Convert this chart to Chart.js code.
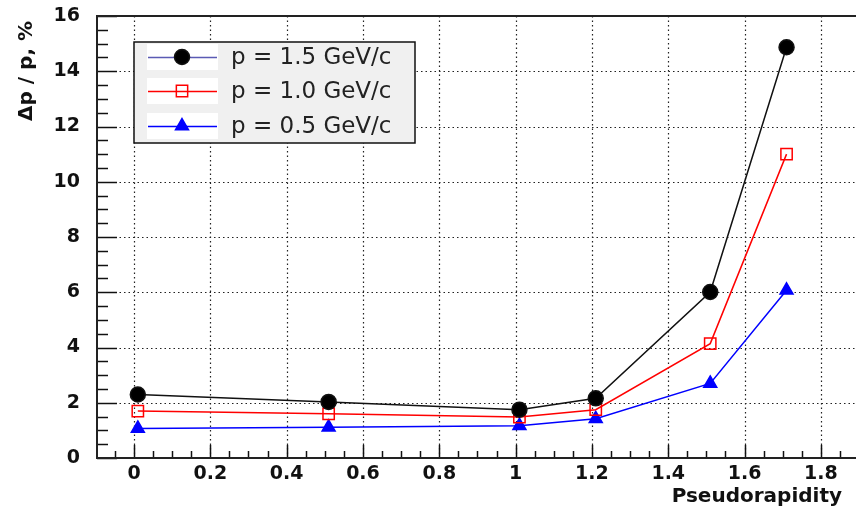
<!DOCTYPE html>
<html>
<head>
<meta charset="utf-8">
<script src="https://cdn.jsdelivr.net/npm/chart.js@4.4.1/dist/chart.umd.min.js"></script>
<style>
  html, body { margin: 0; padding: 0; background: #fff; overflow: hidden; }
  #wrap { width: 856px; height: 508px; }
</style>
</head>
<body>
<div id="wrap"><canvas id="chart"></canvas></div>
<script>
// data
const eta = [0.01, 0.51, 1.01, 1.21, 1.51, 1.71];
const p15 = [2.30, 2.03, 1.75, 2.16, 6.01, 14.87];
const p10 = [1.70, 1.60, 1.48, 1.75, 4.14, 11.0];
const p05 = [1.07, 1.11, 1.17, 1.42, 2.70, 6.07];
const seriesLabels = ['p = 1.5 GeV/c', 'p = 1.0 GeV/c', 'p = 0.5 GeV/c'];
const xTicks = [0, 0.2, 0.4, 0.6, 0.8, 1, 1.2, 1.4, 1.6, 1.8];
const yTicks = [0, 2, 4, 6, 8, 10, 12, 14, 16];

const X_MIN = -0.097, X_MAX = 1.892;
const FONT = 'DejaVu Sans';

const toPoints = ys => eta.map((x, i) => ({ x: x, y: ys[i] }));

const styles = [
  { color: '#111', legendLine: '#5a5ab4', point: 'circle', radius: 7.5, fill: '#000' },
  { color: '#ff0000', legendLine: '#ff0000', point: 'rect', radius: 8, fill: 'rgba(0,0,0,0)' },
  { color: '#0000ff', legendLine: '#0000ff', point: 'triangle', radius: 7.5, fill: '#0000ff' }
];

// ROOT-like frame: dotted grid, inward ticks, axis titles, legend box
const framePlugin = {
  id: 'frame',
  beforeDatasetsDraw(chart) {
    const { ctx, chartArea: a, scales: { x, y } } = chart;
    ctx.save();
    // dotted grid
    ctx.strokeStyle = '#222';
    ctx.lineWidth = 1.2;
    ctx.setLineDash([1.5, 3]);
    xTicks.forEach(v => {
      const px = Math.round(x.getPixelForValue(v)) + 0.5;
      ctx.beginPath(); ctx.moveTo(px, a.top); ctx.lineTo(px, a.bottom); ctx.stroke();
    });
    yTicks.forEach(v => {
      const py = Math.round(y.getPixelForValue(v)) + 0.5;
      ctx.beginPath(); ctx.moveTo(a.left, py); ctx.lineTo(a.right, py); ctx.stroke();
    });
    ctx.setLineDash([]);

    // tick marks
    ctx.strokeStyle = '#111';
    ctx.lineWidth = 1.5;
    for (let v = 0; v <= 16.001; v += 0.5) {
      const py = Math.round(y.getPixelForValue(v)) + 0.5;
      const len = Math.abs(v / 2 - Math.round(v / 2)) < 1e-6 ? 20 : 11;
      ctx.beginPath(); ctx.moveTo(a.left, py); ctx.lineTo(a.left + len, py); ctx.stroke();
    }
    for (let v = -0.05; v <= 1.86; v += 0.05) {
      const px = Math.round(x.getPixelForValue(v)) + 0.5;
      const len = Math.abs(v / 0.2 - Math.round(v / 0.2)) < 1e-6 ? 13 : 7;
      ctx.beginPath(); ctx.moveTo(px, a.bottom); ctx.lineTo(px, a.bottom - len); ctx.stroke();
    }

    // frame lines
    ctx.lineWidth = 2;
    ctx.strokeStyle = '#222';
    ctx.beginPath();
    ctx.moveTo(a.right, a.top); ctx.lineTo(a.left, a.top);
    ctx.lineTo(a.left, a.bottom); ctx.lineTo(a.right, a.bottom);
    ctx.stroke();
    ctx.restore();
  },
  afterDraw(chart) {
    const { ctx } = chart;
    ctx.save();
    ctx.fillStyle = '#111';

    // axis titles
    ctx.font = 'bold 20px "' + FONT + '"';
    ctx.textAlign = 'right';
    ctx.textBaseline = 'alphabetic';
    ctx.fillText('Pseudorapidity', 842, 502);

    ctx.translate(32, 21);
    ctx.rotate(-Math.PI / 2);
    ctx.textAlign = 'right';
    ctx.fillText('\u0394p / p, %', 0, 0);
    ctx.restore();

    // legend
    ctx.save();
    const bx = 134, by = 42, bw = 281, bh = 101;
    ctx.fillStyle = '#f0f0f0';
    ctx.fillRect(bx, by, bw, bh);
    ctx.strokeStyle = '#111';
    ctx.lineWidth = 1.5;
    ctx.strokeRect(bx, by, bw, bh);

    const rows = [57, 91, 126];
    rows.forEach((ry, i) => {
      const st = styles[i];
      ctx.fillStyle = '#fff';
      ctx.fillRect(147, ry - 13, 71, 26);
      ctx.strokeStyle = st.legendLine;
      ctx.lineWidth = 1.5;
      ctx.beginPath(); ctx.moveTo(148, ry + 0.5); ctx.lineTo(217, ry + 0.5); ctx.stroke();
      ctx.fillStyle = st.fill;
      ctx.strokeStyle = st.color;
      Chart.helpers.drawPoint(ctx, {
        pointStyle: st.point, radius: st.radius, borderWidth: 1.5, rotation: 0
      }, 182, ry);
      ctx.fillStyle = '#222';
      ctx.font = '23px "' + FONT + '"';
      ctx.textAlign = 'left';
      ctx.textBaseline = 'middle';
      ctx.fillText(seriesLabels[i], 231, ry + 1);
    });
    ctx.restore();
  }
};

const datasets = [p15, p10, p05].map((ys, i) => ({
  label: seriesLabels[i],
  data: toPoints(ys),
  borderColor: styles[i].color,
  backgroundColor: styles[i].fill,
  pointBorderColor: styles[i].color,
  pointBackgroundColor: styles[i].fill,
  pointStyle: styles[i].point,
  pointRadius: styles[i].radius,
  pointBorderWidth: 1.5,
  borderWidth: 1.5,
  tension: 0,
  fill: false
}));

const tickFont = { family: FONT, size: 19, weight: 'bold' };

new Chart(document.getElementById('chart'), {
  type: 'line',
  data: { datasets: datasets },
  options: {
    responsive: true,
    maintainAspectRatio: false,
    animation: false,
    layout: { autoPadding: false, padding: { top: 16, right: 0, bottom: 0, left: 0 } },
    plugins: { legend: { display: false }, tooltip: { enabled: false } },
    scales: {
      x: {
        type: 'linear',
        min: X_MIN,
        max: X_MAX,
        grid: { display: false },
        border: { display: false },
        ticks: {
          font: tickFont, color: '#111', padding: -3, maxRotation: 0, autoSkip: false,
          callback: v => String(+v.toFixed(1))
        },
        afterBuildTicks: s => { s.ticks = xTicks.map(v => ({ value: v })); },
        afterFit: s => { s.height = 50; s.paddingLeft = 0; s.paddingRight = 0; }
      },
      y: {
        type: 'linear',
        min: 0,
        max: 16,
        grid: { display: false },
        border: { display: false },
        ticks: {
          font: tickFont, color: '#111', padding: 9, autoSkip: false,
          callback: v => String(v)
        },
        afterBuildTicks: s => { s.ticks = yTicks.map(v => ({ value: v })); },
        afterFit: s => { s.width = 97; s.paddingTop = 0; s.paddingBottom = 0; }
      }
    }
  },
  plugins: [framePlugin]
});
</script>
</body>
</html>
